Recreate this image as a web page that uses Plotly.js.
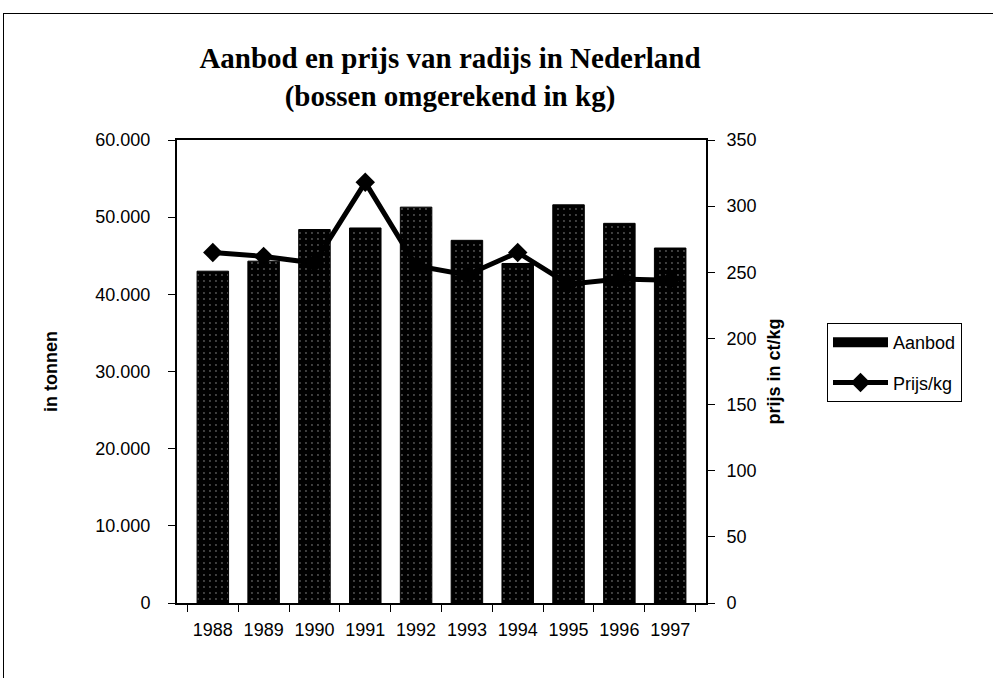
<!DOCTYPE html>
<html>
<head>
<meta charset="utf-8">
<script src="https://cdn.plot.ly/plotly-3.0.1.min.js"></script>
<style>
html,body{margin:0;padding:0;background:#fff;}
#wrap{position:relative;width:993px;height:678px;overflow:hidden;}
#chart{position:absolute;left:0;top:0;width:993px;height:678px;}
#frame{position:absolute;left:3px;top:13px;width:995px;height:700px;border:1px solid #000;box-sizing:border-box;pointer-events:none;}
</style>
</head>
<body>
<div id="wrap"><div id="chart"></div><div id="frame"></div></div>
<script>
const years = ['1988','1989','1990','1991','1992','1993','1994','1995','1996','1997'];
const aanbod = [43000, 44300, 48400, 48600, 51300, 47000, 44000, 51600, 49200, 46000];
const prijs = [265, 262, 257, 318, 255, 248, 265, 241, 245, 244];
const leftTicks = [0, 10000, 20000, 30000, 40000, 50000, 60000];
const rightTicks = [0, 50, 100, 150, 200, 250, 300, 350];

const sans = 'Liberation Sans, Arial, sans-serif';

const traces = [
  {
    type: 'bar', name: 'Aanbod', x: years, y: aanbod, yaxis: 'y',
    showlegend: false,
    marker: {color: '#000', line: {color: '#000', width: 1},
      pattern: {shape: '.', bgcolor: '#000', fgcolor: '#555', size: 6, solidity: 0.08}},
    hoverinfo: 'x+y'
  },
  {
    // legend swatch for the bar series (wide black block as in the original)
    type: 'scatter', mode: 'lines', name: 'Aanbod', x: [null], y: [null], yaxis: 'y',
    legendgroup: 'a', line: {color: '#000', width: 13}, hoverinfo: 'skip'
  },
  {
    type: 'scatter', mode: 'lines+markers', name: 'Prijs/kg', x: years, y: prijs, yaxis: 'y2',
    legendgroup: 'b',
    line: {color: '#000', width: 5},
    marker: {symbol: 'diamond', size: 15, color: '#000'}
  }
];

const layout = {
  width: 993, height: 678,
  margin: {l: 177, r: 287, t: 140, b: 75},
  paper_bgcolor: '#fff', plot_bgcolor: '#fff',
  separators: ',.',
  font: {family: sans, size: 18, color: '#000'},
  bargap: 0.38,
  showlegend: true,
  title: {
    text: 'Aanbod en prijs van radijs in Nederland<br>(bossen omgerekend in kg)',
    font: {family: 'Liberation Serif, Times New Roman, serif', size: 29, color: '#000', weight: 'bold'},
    x: 450 / 993, xanchor: 'center', xref: 'container',
    y: 0.899, yanchor: 'top', yref: 'container'
  },
  xaxis: {
    type: 'category', showline: true, linecolor: '#000', linewidth: 2, mirror: true,
    ticks: 'outside', ticklen: 7, tickcolor: '#000', tickwidth: 1, tickson: 'boundaries',
    ticklabelstandoff: 9,
    showgrid: false, zeroline: false, tickfont: {family: sans, size: 18}
  },
  yaxis: {
    range: [0, 60000], tickvals: leftTicks, tickformat: ',d',
    showline: true, linecolor: '#000', linewidth: 2,
    ticks: 'outside', ticklen: 7, tickcolor: '#000',
    ticklabelstandoff: 14,
    showgrid: false, zeroline: false, tickfont: {family: sans, size: 18},
    title: {text: '<b>in tonnen</b>', font: {family: sans, size: 18}, standoff: 33}
  },
  yaxis2: {
    range: [0, 350], tickvals: rightTicks, overlaying: 'y', side: 'right',
    showline: true, linecolor: '#000', linewidth: 2,
    ticks: 'outside', ticklen: 7, tickcolor: '#000',
    ticklabelstandoff: 8,
    showgrid: false, zeroline: false, tickfont: {family: sans, size: 18},
    title: {text: '<b>prijs in ct/kg</b>', font: {family: sans, size: 18}, standoff: 12}
  },
  legend: {
    x: 827 / 993, y: 1 - 323 / 678, xref: 'container', yref: 'container',
    xanchor: 'left', yanchor: 'top',
    bordercolor: '#000', borderwidth: 1, bgcolor: '#fff',
    font: {family: sans, size: 18}, itemwidth: 55,
    traceorder: 'grouped', tracegroupgap: 14
  }
};

Plotly.newPlot('chart', traces, layout, {displayModeBar: false, staticPlot: true});
</script>
</body>
</html>
